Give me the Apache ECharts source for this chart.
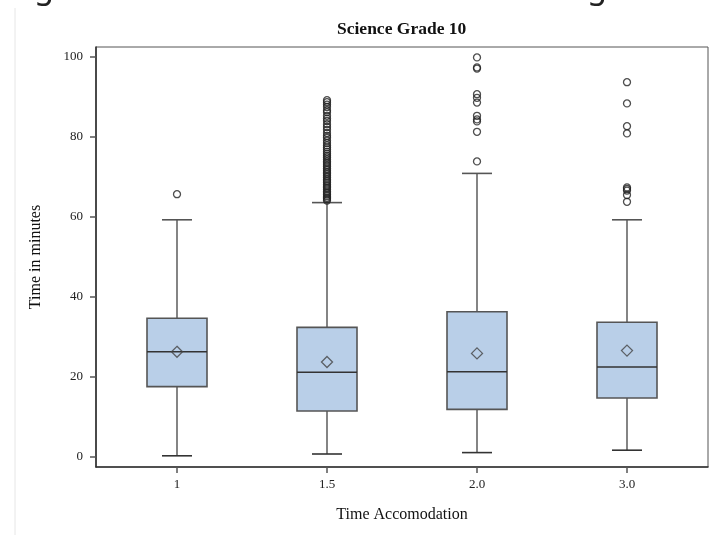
<!DOCTYPE html>
<html>
<head>
<meta charset="utf-8">
<script src="https://cdn.jsdelivr.net/npm/echarts@6/dist/echarts.min.js"></script>
<style>
html,body{margin:0;padding:0;background:#fff;}
#chart{width:711px;height:535px;}
</style>
</head>
<body>
<div id="chart"></div>
<script>
// ---- data ----
var categories = ['1', '1.5', '2.0', '3.0'];
var whiskerLow  = [0.3, 0.75, 1.1, 1.7];
var q1Values    = [17.6, 11.5, 11.9, 14.75];
var medians     = [26.3, 21.2, 21.3, 22.5];
var q3Values    = [34.7, 32.4, 36.3, 33.7];
var whiskerHigh = [59.3, 63.6, 70.9, 59.3];
var means       = [26.3, 23.75, 25.9, 26.6];

var outliers1   = [65.7];
var outliers15  = [89.2, 88.7, 88.1, 87.5, 86.7, 86.2, 85.3, 84.6, 84.0, 83.2, 82.5, 81.8, 81.0, 80.3, 79.8,
                   79.1, 78.5, 77.9, 77.4, 76.9, 76.3, 75.8, 75.3, 74.9, 74.4, 73.9, 73.5, 73.0, 72.6, 72.1,
                   71.7, 71.2, 70.8, 70.3, 69.9, 69.4, 69.0, 68.6, 68.1, 67.7, 67.3, 66.9, 66.4, 66.0, 65.6,
                   65.2, 64.8, 64.5, 64.1];
var outliers20  = [99.9, 97.4, 97.1, 90.7, 89.8, 88.6, 85.3, 84.4, 83.9, 81.3, 73.9];
var outliers30  = [93.7, 88.4, 82.7, 80.9, 67.4, 67.0, 66.6, 65.5, 63.8];
var outlierLists = [outliers1, outliers15, outliers20, outliers30];

var yTicks = [0, 20, 40, 60, 80, 100];
var xTicks = [0, 1, 2, 3];

// ---- build series data ----
var boxData = categories.map(function (c, i) {
  return [i, whiskerLow[i], q1Values[i], medians[i], q3Values[i], whiskerHigh[i]];
});
var meanData = categories.map(function (c, i) { return [i, means[i]]; });
var outlierData = [];
outlierLists.forEach(function (list, i) {
  list.forEach(function (v) { outlierData.push([i, v]); });
});

var serif = "'Liberation Serif', 'DejaVu Serif', serif";

function renderBox(params, api) {
  var x = api.value(0);
  var pLow = api.coord([x, api.value(1)]);
  var pQ1 = api.coord([x, api.value(2)]);
  var pMed = api.coord([x, api.value(3)]);
  var pQ3 = api.coord([x, api.value(4)]);
  var pHigh = api.coord([x, api.value(5)]);
  var cx = pQ1[0];
  var half = 30, cap = 15;
  var whisk = { stroke: '#666', lineWidth: 1.6 };
  return {
    type: 'group',
    children: [
      { type: 'line', shape: { x1: cx, y1: pQ3[1], x2: cx, y2: pHigh[1] }, style: whisk },
      { type: 'line', shape: { x1: cx, y1: pQ1[1], x2: cx, y2: pLow[1] }, style: whisk },
      { type: 'line', shape: { x1: cx - cap, y1: pHigh[1], x2: cx + cap, y2: pHigh[1] }, style: { stroke: '#555', lineWidth: 1.6 } },
      { type: 'line', shape: { x1: cx - cap, y1: pLow[1], x2: cx + cap, y2: pLow[1] }, style: { stroke: '#333', lineWidth: 1.6 } },
      { type: 'rect', shape: { x: cx - half, y: pQ3[1], width: half * 2, height: pQ1[1] - pQ3[1] },
        style: { fill: '#b9cfe8', stroke: '#555', lineWidth: 1.6 } },
      { type: 'line', shape: { x1: cx - half, y1: pMed[1], x2: cx + half, y2: pMed[1] }, style: { stroke: '#333', lineWidth: 1.6 } }
    ]
  };
}

var chart = echarts.init(document.getElementById('chart'));
chart.setOption({
  animation: false,
  backgroundColor: '#fff',
  title: {
    text: 'Science Grade 10',
    left: 337, top: 20, padding: 0,
    textStyle: { fontFamily: serif, fontWeight: 'bold', fontSize: 17.5, color: '#111' }
  },
  grid: {
    left: 96, right: 3, top: 47, bottom: 68,
    show: true, borderColor: '#555', borderWidth: 1
  },
  xAxis: {
    type: 'value', min: -0.54, max: 3.54,
    name: 'Time Accomodation', nameLocation: 'middle', nameGap: 40,
    nameTextStyle: { fontFamily: serif, fontSize: 16, color: '#111' },
    axisLine: { show: true, onZero: false, lineStyle: { color: '#333', width: 1.6 } },
    axisTick: { show: true, length: 6, customValues: xTicks, lineStyle: { color: '#555', width: 1.5 } },
    axisLabel: {
      customValues: xTicks, margin: 11,
      fontFamily: serif, fontSize: 13, color: '#222',
      formatter: function (v) { return categories[Math.round(v)]; }
    },
    splitLine: { show: false }
  },
  yAxis: {
    type: 'value', min: -2.5, max: 102.5,
    name: 'Time in minutes', nameLocation: 'middle', nameGap: 52, nameRotate: 90,
    nameTextStyle: { fontFamily: serif, fontSize: 16, color: '#111' },
    axisLine: { show: true, onZero: false, lineStyle: { color: '#333', width: 1.6 } },
    axisTick: { show: true, length: 6, customValues: yTicks, lineStyle: { color: '#555', width: 1.5 } },
    axisLabel: {
      customValues: yTicks, margin: 13,
      fontFamily: serif, fontSize: 13, color: '#222'
    },
    splitLine: { show: false }
  },
  graphic: [
    { type: 'line', shape: { x1: 15, y1: 8, x2: 15, y2: 535 }, style: { stroke: '#e6e6e6', lineWidth: 1 }, silent: true },
    { type: 'text', x: 44, y: -11, style: { text: 'g', fontFamily: "'Noto Sans', sans-serif", fontSize: 32, fill: '#222', align: 'center', verticalAlign: 'middle' }, silent: true },
    { type: 'text', x: 597, y: -11, style: { text: 'g', fontFamily: "'Noto Sans', sans-serif", fontSize: 32, fill: '#222', align: 'center', verticalAlign: 'middle' }, silent: true }
  ],
  series: [
    {
      type: 'custom', name: 'Box', data: boxData,
      encode: { x: 0, y: [1, 2, 3, 4, 5] },
      renderItem: renderBox, z: 2
    },
    {
      type: 'scatter', name: 'Mean', data: meanData,
      symbol: 'diamond', symbolSize: [11, 11],
      itemStyle: { color: 'rgba(0,0,0,0)', borderColor: '#444', borderWidth: 1.3 },
      z: 4
    },
    {
      type: 'scatter', name: 'Outliers', data: outlierData,
      symbol: 'circle', symbolSize: 7,
      itemStyle: { color: 'rgba(0,0,0,0)', borderColor: '#222', borderWidth: 1.3 },
      z: 3
    }
  ]
});
</script>
</body>
</html>
